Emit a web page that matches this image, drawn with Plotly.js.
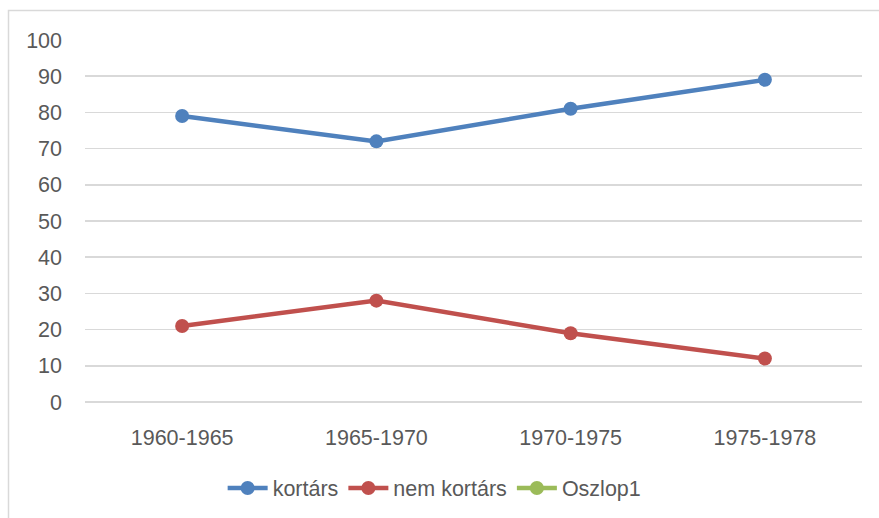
<!DOCTYPE html>
<html>
<head>
<meta charset="utf-8">
<script src="https://cdn.plot.ly/plotly-3.0.1.min.js"></script>
<style>html,body{margin:0;padding:0;background:#fff;}#chart{width:879px;height:518px;}</style>
</head>
<body>
<div id="chart"></div>
<script>
const categories = ["1960-1965", "1965-1970", "1970-1975", "1975-1978"];
const kortars = [79, 72, 81, 89];
const nemKortars = [21, 28, 19, 12];
const oszlop1 = [null, null, null, null];
const seriesNames = ["kortárs", "nem kortárs", "Oszlop1"];
const yTicks = [0, 10, 20, 30, 40, 50, 60, 70, 80, 90, 100];

function tr(y, name, color) {
  return {
    x: categories, y: y, name: name, type: "scatter", mode: "lines+markers",
    line: {color: color, width: 4.5},
    marker: {color: color, size: 14},
    showlegend: true
  };
}
const data = [
  tr(kortars, seriesNames[0], "#4F81BD"),
  tr(nemKortars, seriesNames[1], "#C0504D"),
  tr(oszlop1, seriesNames[2], "#9BBB59")
];
const font = {family: "Liberation Sans, Arial, sans-serif", size: 21.5, color: "#595959"};
const layout = {
  width: 879, height: 518,
  margin: {l: 85, r: 17, t: 40, b: 116, autoexpand: false},
  paper_bgcolor: "#fff", plot_bgcolor: "#fff",
  font: font,
  xaxis: {
    type: "category", tickvals: categories, ticktext: categories,
    range: [-0.5, 3.5], showgrid: false, zeroline: false,
    showline: false, ticks: "", ticklabelstandoff: 20, tickfont: font
  },
  yaxis: {
    range: [0, 100], tickvals: yTicks, ticktext: yTicks.map(String),
    showgrid: true, gridcolor: "#D9D9D9", gridwidth: 1.5,
    zeroline: true, zerolinecolor: "#D9D9D9", zerolinewidth: 1.5,
    showline: false, ticks: "", ticklabelstandoff: 22, tickfont: font
  },
  legend: {
    orientation: "h", x: 0.45, xanchor: "center",
    yref: "container", y: 30 / 518, yanchor: "middle",
    font: font, itemclick: false, bgcolor: "rgba(0,0,0,0)", itemwidth: 40
  },
  shapes: [{
    type: "rect", xref: "paper", yref: "paper",
    x0: (8.5 - 85) / 777, x1: (890 - 85) / 777,
    y0: -(530 - 402) / 362, y1: (402 - 10.5) / 362,
    line: {color: "#D9D9D9", width: 1.5}, fillcolor: "rgba(0,0,0,0)", layer: "below"
  }]
};
Plotly.newPlot("chart", data, layout, {displayModeBar: false, staticPlot: true});
</script>
</body>
</html>
